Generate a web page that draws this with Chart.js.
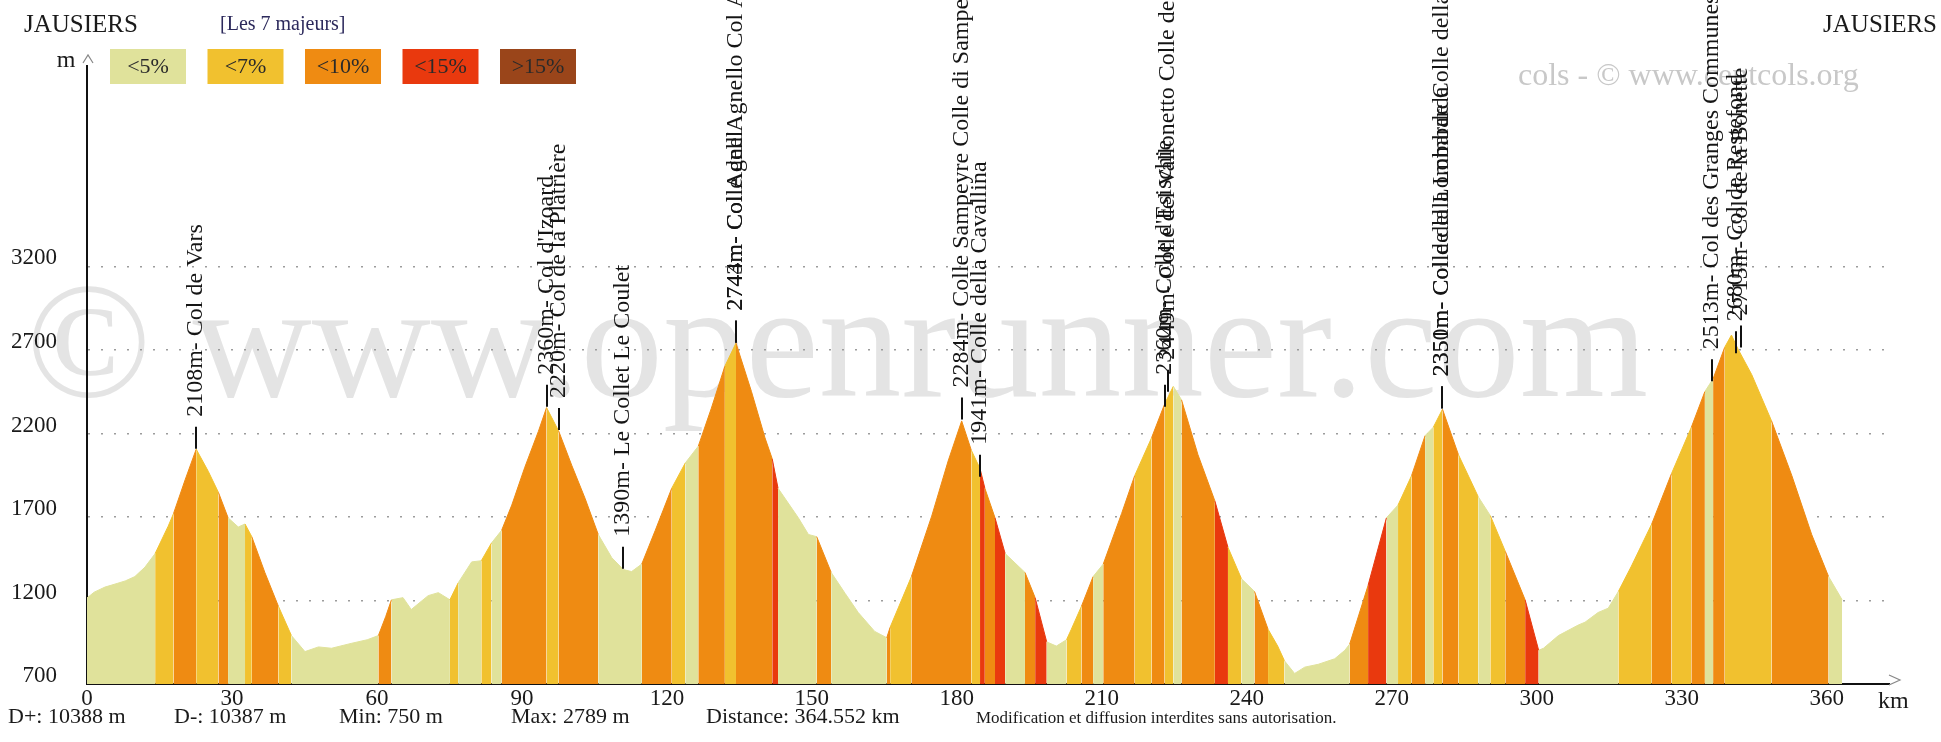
<!DOCTYPE html>
<html>
<head>
<meta charset="utf-8">
<script src="https://cdn.jsdelivr.net/npm/chart.js@4/dist/chart.umd.min.js"></script>
<style>
  html, body { margin: 0; padding: 0; background: #fff; }
  #profile { display: block; }
</style>
</head>
<body>
<canvas id="profile" width="1941" height="742"></canvas>
<script>
// elevation profile (km / m)
const profileKm = [
  0, 1.5, 3.7, 6, 7.9, 9.9, 12, 14.1, 16.8, 17.9, 20.3, 22.6, 25.1, 27.2, 29.2, 31.3, 32.7, 34.1,
  36.8, 39.6, 42.3, 45.1, 47.9, 50.6, 54.8, 58, 60.3, 61.8, 63.0, 65.4, 67.1, 70.6, 72.7, 75.1,
  76.8, 79.6, 81.6, 83.7, 85.8, 87.9, 90.6, 93.4, 95.1, 97.6, 100.3, 103.1, 105.8, 108.6, 111.0,
  112.7, 114.8, 117.6, 121.0, 123.8, 126.5, 129.2, 132.0, 134.3, 137.5, 140.3, 141.8, 143.0,
  147.2, 149.3, 151.0, 154.0, 156.9, 159.6, 163.0, 165.5, 166.2, 170.6, 174.8, 178.2, 181.0,
  183.0, 184.8, 185.8, 187.9, 190.0, 194.1, 196.2, 198.6, 200.6, 202.7, 203.7, 205.8, 208.2,
  210.3, 214.1, 216.8, 220.3, 223.0, 224.8, 226.5, 229.9, 233.4, 236.1, 238.9, 241.6, 244.4,
  246.4, 247.8, 249.9, 252.0, 254.8, 258.2, 260.3, 261.3, 265.1, 268.9, 271.3, 274.1, 276.9,
  278.6, 280.5, 283.8, 287.9, 290.4, 293.5, 297.6, 300.4, 301.4, 304.5, 308.6, 310.0, 312.7,
  314.8, 316.9, 319.6, 323.8, 327.9, 332.0, 334.8, 336.5, 338.9, 340.3, 341.7, 344.5, 348.6,
  352.8, 356.9, 360.4, 363.2
];
const profileElev = [
  1215, 1250, 1280, 1300, 1317, 1343, 1400, 1481, 1645, 1720, 1922, 2106, 1973, 1847, 1695, 1640, 1658, 1582,
  1368, 1166, 990, 894, 922, 914, 944, 965, 990, 1103, 1204, 1217, 1146, 1229, 1247, 1204,
  1305, 1431, 1438, 1544, 1620, 1771, 1998, 2212, 2355, 2215, 2010, 1809, 1595, 1456, 1385,
  1373, 1418, 1620, 1872, 2023, 2124, 2351, 2603, 2741, 2451, 2174, 2048, 1872,
  1695, 1595, 1582, 1368, 1242, 1128, 1015, 977, 1040, 1343, 1705, 2035, 2275,
  2099, 1990, 1872, 1695, 1481, 1368, 1217, 952, 927, 965, 1028, 1166, 1343,
  1418, 1721, 1947, 2174, 2376, 2482, 2401, 2073, 1796, 1519, 1330, 1254, 1028,
  927, 839, 763, 801, 818, 851, 902, 939, 1290, 1695, 1771, 1947, 2187,
  2237, 2345, 2073, 1821, 1708, 1494, 1204, 902, 914, 990, 1053, 1070, 1128,
  1154, 1254, 1406, 1658, 1960, 2237, 2451, 2527, 2716, 2789, 2703, 2552, 2275,
  1947, 1595, 1343, 1204
];

const yTicks = [700, 1200, 1700, 2200, 2700, 3200];
const xTicks = [0, 30, 60, 90, 120, 150, 180, 210, 240, 270, 300, 330, 360];

const gradeLimits = [5, 7, 10, 15];
const gradeLabels = ['<5%', '<7%', '<10%', '<15%', '>15%'];
const gradeColors = ['#e0e29b', '#f1c12f', '#ef8b12', '#e9390e', '#9a451a'];

// cols
const colKm = [22.6, 95.1, 97.7, 111.0, 134.3, 134.3, 181.0, 184.8, 223.0, 223.6, 280.5, 280.5, 336.3, 341.3, 342.2];
const colAlt = [2108, 2360, 2220, 1390, 2744, 2743, 2284, 1941, 2360, 2449, 2350, 2351, 2513, 2680, 2715];
const colName = [
  'Col de Vars', "Col d'Izoard", 'Col de la Platrière', 'Le Collet Le Coulet',
  'Col Agnel', "Colle dell'Agnello Col Agnel", 'Colle Sampeyre Colle di Sampeyre',
  'Colle della Cavallina', "Colle d'Esischie", 'Colle del Vallonetto Colle del Vallonetto',
  'Colle della Lombarda', 'Col de la Lombarde Colle della Lombarda',
  'Col des Granges Communes', 'Col de Restefond', 'Col de la Bonette'
];

const footerItems = ['D+: 10388 m', 'D-: 10387 m', 'Min: 750 m', 'Max: 2789 m', 'Distance: 364.552 km'];

const FONT = "'Liberation Serif', 'Times New Roman', serif";

function gradeColor(i0, i1) {
  const g = Math.abs(profileElev[i1] - profileElev[i0]) / ((profileKm[i1] - profileKm[i0]) * 10);
  let c = gradeLimits.findIndex(l => g < l);
  if (c < 0) c = gradeColors.length - 1;
  return gradeColors[c];
}

const decor = {
  id: 'decor',
  beforeDraw(chart) {
    const ctx = chart.ctx;
    ctx.save();
    ctx.fillStyle = '#e4e4e4';
    ctx.font = `165px ${FONT}`;
    ctx.fillText('© www.openrunner.com', 26, 396);
    ctx.fillStyle = '#c8c8c8';
    ctx.font = `32px ${FONT}`;
    ctx.fillText('cols - © www.centcols.org', 1518, 85);
    ctx.restore();
  },
  afterDatasetsDraw(chart) {
    const ctx = chart.ctx;
    const sx = chart.scales.x, sy = chart.scales.y;
    ctx.save();

    // col markers
    ctx.font = `24px ${FONT}`;
    ctx.fillStyle = '#151515';
    ctx.strokeStyle = '#111';
    ctx.lineWidth = 2;
    colKm.forEach((k, i) => {
      const x = Math.round(sx.getPixelForValue(k));
      const y = sy.getPixelForValue(colAlt[i]);
      ctx.beginPath();
      ctx.moveTo(x, y);
      ctx.lineTo(x, y - 22);
      ctx.stroke();
      ctx.save();
      ctx.translate(x, y - 32);
      ctx.rotate(-Math.PI / 2);
      ctx.textAlign = 'left';
      ctx.textBaseline = 'middle';
      ctx.fillText(`${colAlt[i]}m- ${colName[i]}`, 0, 0);
      ctx.restore();
    });

    // titles
    ctx.fillStyle = '#1a1a1a';
    ctx.font = `25px ${FONT}`;
    ctx.textBaseline = 'alphabetic';
    ctx.textAlign = 'left';
    ctx.fillText('JAUSIERS', 24, 32);
    ctx.textAlign = 'right';
    ctx.fillText('JAUSIERS', 1937, 32);
    ctx.textAlign = 'left';
    ctx.fillStyle = '#2d2a5c';
    ctx.font = `20px ${FONT}`;
    ctx.fillText('[Les 7 majeurs]', 220, 30);

    // legend boxes
    ctx.font = `22px ${FONT}`;
    ctx.textAlign = 'center';
    ctx.textBaseline = 'middle';
    gradeLabels.forEach((lab, i) => {
      const bx = 110 + i * 97.5;
      ctx.fillStyle = gradeColors[i];
      ctx.fillRect(bx, 49, 76, 35);
      ctx.fillStyle = '#2a2a2a';
      ctx.fillText(lab, bx + 38, 67);
    });

    // axis unit + arrows
    ctx.fillStyle = '#1a1a1a';
    ctx.font = `24px ${FONT}`;
    ctx.textBaseline = 'alphabetic';
    ctx.fillText('m', 66, 67);
    ctx.textAlign = 'left';
    ctx.fillText('km', 1878, 708);
    ctx.strokeStyle = '#888';
    ctx.lineWidth = 1.2;
    ctx.beginPath();
    ctx.moveTo(83, 63); ctx.lineTo(88, 55); ctx.lineTo(93, 63);
    ctx.moveTo(1889, 675); ctx.lineTo(1900, 680); ctx.lineTo(1889, 685);
    ctx.stroke();

    // footer
    ctx.fillStyle = '#1a1a1a';
    ctx.font = `22px ${FONT}`;
    const fx = [8, 174, 339, 511, 706];
    footerItems.forEach((t, i) => ctx.fillText(t, fx[i], 723));
    ctx.font = `17px ${FONT}`;
    ctx.fillText('Modification et diffusion interdites sans autorisation.', 976, 723);

    ctx.restore();
  }
};

new Chart(document.getElementById('profile'), {
  type: 'line',
  data: {
    datasets: [{
      data: profileKm.map((k, i) => ({ x: k, y: profileElev[i] })),
      fill: 'start',
      backgroundColor: gradeColors[0],
      borderColor: gradeColors[0],
      borderWidth: 1,
      pointRadius: 0,
      tension: 0,
      segment: {
        backgroundColor: c => gradeColor(c.p0DataIndex, c.p1DataIndex),
        borderColor: c => gradeColor(c.p0DataIndex, c.p1DataIndex),
      },
    }],
  },
  options: {
    responsive: false,
    animation: false,
    devicePixelRatio: 1,
    layout: { padding: { top: 66, right: 52, left: 0, bottom: 0 } },
    plugins: { legend: { display: false }, tooltip: { enabled: false } },
    scales: {
      x: {
        type: 'linear',
        min: 0,
        max: 372.9,
        afterBuildTicks: s => { s.ticks = xTicks.map(v => ({ value: v })); },
        afterFit: s => { s.height = 58; },
        grid: { display: false, drawTicks: false },
        border: { display: true, color: '#111', width: 2 },
        ticks: {
          autoSkip: false, maxRotation: 0, padding: 1,
          color: '#1a1a1a', font: { family: FONT, size: 23 },
          callback: v => String(v),
        },
      },
      y: {
        min: 700,
        max: 4400,
        afterBuildTicks: s => { s.ticks = yTicks.map(v => ({ value: v })); },
        afterFit: s => { s.width = 87; },
        grid: {
          drawTicks: false,
          lineWidth: 1.5,
          color: c => (c.tick && c.tick.value === 700 ? 'rgba(0,0,0,0)' : '#9c9c9c'),
        },
        border: { display: true, color: '#111', width: 2, dash: [2, 11] },
        ticks: {
          autoSkip: false, padding: 30, labelOffset: -8,
          color: '#1a1a1a', font: { family: FONT, size: 23 },
          callback: v => String(v),
        },
      },
    },
  },
  plugins: [decor],
});
</script>
</body>
</html>
